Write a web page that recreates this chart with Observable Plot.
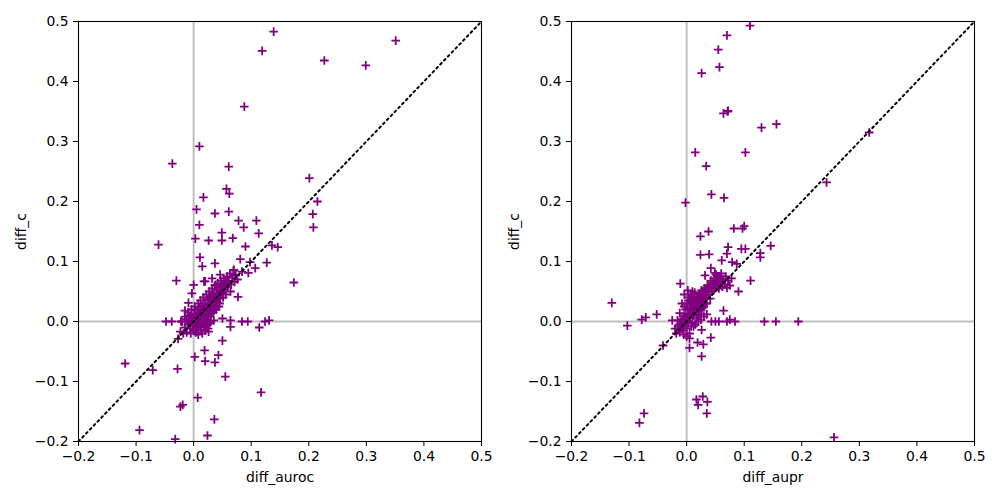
<!DOCTYPE html>
<html>
<head>
<meta charset="utf-8">
<script src="https://cdn.jsdelivr.net/npm/d3@7"></script>
<script src="https://cdn.jsdelivr.net/npm/@observablehq/plot@0.6"></script>
<style>
  html, body { margin: 0; padding: 0; background: #fff; }
  #wrap { display: flex; width: 1000px; height: 500px; }
  #wrap svg { display: block; }
</style>
</head>
<body>
<div id="wrap"></div>
<script>
// ---- data ----
const axisTicks = [-0.2, -0.1, 0.0, 0.1, 0.2, 0.3, 0.4, 0.5];
const axisDomain = [-0.2, 0.5];
const diagonal = [-0.2, 0.5];
const pointColor = "#800080";

// left panel: [diff_auroc, diff_c]
const aurocPoints = [
  [0.139,0.483],[0.119,0.451],[0.227,0.435],[0.299,0.427],[0.351,0.468],[0.088,0.358],
  [0.010,0.292],[-0.037,0.263],[0.061,0.258],[0.201,0.239],[0.057,0.221],[0.062,0.213],
  [0.017,0.207],[0.215,0.200],[0.005,0.187],[0.037,0.180],[0.061,0.183],[0.078,0.168],
  [0.109,0.168],[0.207,0.179],[0.010,0.161],[0.087,0.157],[0.208,0.157],[0.049,0.148],
  [0.113,0.147],[0.003,0.138],[0.026,0.135],[0.049,0.135],[0.068,0.139],[0.090,0.125],
  [0.136,0.127],[0.146,0.124],[-0.061,0.128],
  [0.011,0.107],[0.015,0.092],[0.037,0.097],[0.081,0.104],[0.098,0.099],[0.127,0.098],
  [0.107,0.089],[0.095,0.081],[-0.030,0.068],[0.174,0.065],[0.077,0.041],[0.000,0.061],
  [0.018,0.067],[-0.003,0.047],[-0.009,0.031],[-0.015,0.018],
  [0.070,0.086],[0.072,0.078],[0.084,0.083],[0.046,0.078],[0.055,0.067],[0.064,0.050],
  [0.032,0.072],[0.020,0.067],[0.038,0.061],
  [-0.048,0.000],[-0.038,0.000],[-0.022,0.000],[0.050,0.005],[0.064,0.002],[0.084,0.000],
  [0.094,0.000],[0.124,0.000],[0.131,0.002],
  [0.064,-0.009],[0.114,-0.010],[-0.027,-0.029],[-0.023,-0.017],[0.026,-0.017],[0.050,-0.032],
  [0.019,-0.048],[0.002,-0.059],[0.043,-0.056],[0.020,-0.066],[0.037,-0.068],[-0.119,-0.070],
  [-0.071,-0.081],[-0.028,-0.079],[0.055,-0.092],[0.117,-0.118],[0.007,-0.127],[-0.023,-0.142],
  [-0.019,-0.139],[0.036,-0.163],[-0.094,-0.181],[-0.032,-0.196],[0.024,-0.190],
  // dense cluster
  [-0.015,-0.010],[-0.012,0.004],[-0.010,-0.005],[-0.008,0.010],[-0.006,-0.012],[-0.005,0.002],
  [-0.004,0.020],[-0.002,-0.008],[0.000,0.005],[0.000,-0.015],[0.001,0.012],[0.002,0.025],
  [0.003,-0.003],[0.004,0.008],[0.005,0.018],[0.006,-0.010],[0.007,0.002],[0.008,0.030],
  [0.009,0.014],[0.010,-0.005],[0.010,0.022],[0.011,0.006],[0.012,0.035],[0.013,0.016],
  [0.014,-0.002],[0.015,0.026],[0.016,0.010],[0.017,0.040],[0.018,0.020],[0.019,0.003],
  [0.020,0.030],[0.021,0.014],[0.022,0.045],[0.023,0.024],[0.024,0.008],[0.025,0.036],
  [0.026,0.018],[0.027,0.050],[0.028,0.028],[0.029,0.012],[0.030,0.042],[0.031,0.022],
  [0.032,0.055],[0.033,0.034],[0.034,0.015],[0.035,0.046],[0.036,0.026],[0.037,0.060],
  [0.038,0.040],[0.039,0.020],[0.040,0.052],[0.041,0.032],[0.042,0.064],[0.043,0.044],
  [0.044,0.025],[0.045,0.056],[0.046,0.038],[0.047,0.068],[0.048,0.048],[0.050,0.060],
  [0.051,0.040],[0.052,0.072],[0.053,0.053],[0.055,0.064],[0.056,0.045],[0.058,0.075],
  [0.059,0.057],[0.061,0.068],[0.063,0.080],[0.065,0.062],[0.067,0.073],[0.069,0.085],
  [0.071,0.066],[0.073,0.077],[0.076,0.070],[-0.018,-0.020],[-0.012,-0.018],[-0.005,-0.020],
  [0.004,-0.018],[0.012,-0.014],[0.018,-0.010],[0.022,-0.006],[0.028,-0.003],[0.008,-0.022],
  [0.015,-0.020],[-0.020,0.000],[-0.015,0.008],[0.030,0.000],[0.035,0.002],[0.020,-0.015],
  [0.025,-0.012],
  [0.002,0.000],[0.005,0.004],[0.008,0.010],[0.011,0.000],[0.014,0.012],[0.017,0.020],
  [0.020,0.018],[0.023,0.015],[0.026,0.030],[0.029,0.025],[0.032,0.028],[0.035,0.038],
  [0.038,0.033],[0.041,0.048],[0.044,0.040],[0.047,0.052],[0.050,0.047],[0.053,0.058],
  [0.056,0.060],[0.060,0.062],[0.033,0.045],[0.028,0.038],[0.024,0.030],[0.019,0.024],
  [0.016,0.005],[0.012,0.020],[0.008,-0.005],[0.004,-0.008],[0.000,-0.005],[-0.003,0.008],
  [-0.008,-0.002],[-0.010,0.015],[0.045,0.030],[0.040,0.025],[0.036,0.020],[0.030,0.015],
  [0.026,0.008],[0.022,0.002],[0.018,0.000],[0.013,-0.008]
];

// right panel: [diff_aupr, diff_c]
const auprPoints = [
  [0.110,0.493],[0.070,0.477],[0.055,0.453],[0.057,0.424],[0.026,0.414],[0.064,0.347],
  [0.071,0.350],[0.072,0.351],[0.130,0.323],[0.156,0.329],[0.317,0.315],[0.015,0.282],
  [0.102,0.282],[0.034,0.259],[0.243,0.232],[0.043,0.212],[0.065,0.206],[-0.002,0.198],
  [0.038,0.150],[0.082,0.155],[0.097,0.155],[0.100,0.159],[0.024,0.142],
  [0.072,0.124],[0.095,0.121],[0.102,0.121],[0.146,0.126],[0.024,0.111],[0.039,0.112],
  [0.070,0.113],[0.128,0.114],[0.128,0.107],[0.061,0.102],[0.079,0.099],[0.087,0.096],
  [0.042,0.089],[0.049,0.081],[0.032,0.077],[0.111,0.068],[0.090,0.050],[-0.011,0.063],
  [-0.130,0.031],[-0.052,0.012],[-0.071,0.007],[-0.078,0.003],[-0.103,-0.007],[0.064,0.018],
  [0.135,0.000],[0.155,0.000],[0.194,0.000],[-0.041,-0.040],[0.005,-0.044],[0.026,-0.058],
  [0.017,-0.130],[0.028,-0.125],[0.036,-0.134],[0.020,-0.139],[0.035,-0.153],[-0.074,-0.153],
  [-0.082,-0.169],[0.256,-0.193],
  [0.043,0.000],[0.050,0.000],[0.056,0.000],[0.070,0.000],[0.075,0.003],[0.084,0.000],
  [-0.025,0.002],[-0.010,0.000],
  [0.005,-0.028],[0.026,-0.014],[0.019,-0.035],[0.029,-0.038],[0.042,-0.027],
  // dense cluster
  [-0.020,-0.012],[-0.018,-0.020],[-0.015,-0.008],[-0.012,-0.018],[-0.010,-0.010],[-0.008,0.004],
  [-0.006,-0.015],[-0.005,0.010],[-0.003,-0.005],[-0.002,0.020],[0.000,0.002],[0.000,-0.012],
  [0.001,0.030],[0.002,0.012],[0.003,-0.003],[0.004,0.040],[0.005,0.022],[0.006,0.006],
  [0.007,0.045],[0.008,0.015],[0.009,0.032],[0.010,-0.002],[0.010,0.050],[0.011,0.025],
  [0.012,0.010],[0.013,0.038],[0.014,0.048],[0.015,0.018],[0.016,0.030],[0.017,0.005],
  [0.018,0.042],[0.019,0.022],[0.020,0.035],[0.021,0.012],[0.022,0.046],[0.023,0.028],
  [0.024,0.040],[0.025,0.018],[0.026,0.052],[0.027,0.032],[0.028,0.044],[0.030,0.025],
  [0.031,0.055],[0.032,0.038],[0.034,0.048],[0.035,0.030],[0.036,0.060],[0.038,0.045],
  [0.040,0.055],[0.041,0.038],[0.042,0.068],[0.044,0.050],[0.045,0.062],[0.047,0.072],
  [0.048,0.056],[0.050,0.066],[0.051,0.078],[0.053,0.060],[0.054,0.070],[0.056,0.055],
  [0.057,0.075],[0.059,0.064],[0.060,0.080],[0.062,0.058],[0.064,0.070],[0.066,0.062],
  [0.068,0.075],[0.070,0.056],[0.072,0.068],[0.075,0.060],[0.078,0.072],[-0.004,0.045],
  [-0.008,0.030],[0.002,0.052],[-0.012,0.014],[-0.016,0.002],[0.005,-0.020],[0.008,-0.008],
  [0.015,-0.005],[0.020,0.000],[0.025,0.003],[0.030,0.008],[0.035,0.012],[-0.005,-0.022],
  [0.000,-0.025],
  [0.002,0.000],[0.004,0.010],[0.007,0.020],[0.010,0.015],[0.012,0.030],[0.015,0.025],
  [0.017,0.035],[0.020,0.028],[0.022,0.038],[0.025,0.045],[0.028,0.050],[0.030,0.040],
  [0.033,0.052],[0.036,0.050],[0.039,0.060],[0.043,0.058],[0.046,0.066],[0.049,0.060],
  [0.052,0.068],[0.055,0.064],[0.058,0.070],[0.061,0.066],[-0.002,0.008],[-0.005,0.000],
  [-0.008,-0.005],[-0.012,-0.005],[-0.014,-0.014],[0.003,0.035],[0.006,0.028],[0.008,0.040],
  [-0.004,0.025],[0.012,-0.008],[0.018,0.010],[0.022,0.020],[0.027,0.022],[0.032,0.030]
];

function panel(points, xLabel, marginLeft, marginRight) {
  return Plot.plot({
    width: 500,
    height: 500,
    marginLeft, marginRight,
    marginTop: 21,
    marginBottom: 59,
    style: { fontFamily: "DejaVu Sans, sans-serif", fontSize: "13.9px", background: "white", color: "black", overflow: "visible" },
    x: { domain: axisDomain, ticks: axisTicks, tickFormat: d3.format(".1f"), tickSize: 5, tickPadding: 5,
         label: xLabel, labelAnchor: "center", labelOffset: 40, labelArrow: "none" },
    y: { domain: axisDomain, ticks: axisTicks, tickFormat: d3.format(".1f"), tickSize: 5, tickPadding: 5,
         label: "diff_c", labelAnchor: "center", labelOffset: 62, labelArrow: "none" },
    marks: [
      Plot.ruleX([0], { stroke: "#bfbfbf", strokeWidth: 2 }),
      Plot.ruleY([0], { stroke: "#bfbfbf", strokeWidth: 2 }),
      Plot.dot(points, { x: d => d[0], y: d => d[1], symbol: "plus", r: 2.9, stroke: pointColor, strokeWidth: 1.8 }),
      Plot.line(diagonal, { x: d => d, y: d => d, stroke: "black", strokeWidth: 2, strokeDasharray: "2,3.5" }),
      Plot.frame({ stroke: "black", strokeWidth: 1.1 })
    ]
  });
}

const wrap = document.getElementById("wrap");
wrap.appendChild(panel(aurocPoints, "diff_auroc", 78, 19));
wrap.appendChild(panel(auprPoints, "diff_aupr", 71, 26));
</script>
</body>
</html>
